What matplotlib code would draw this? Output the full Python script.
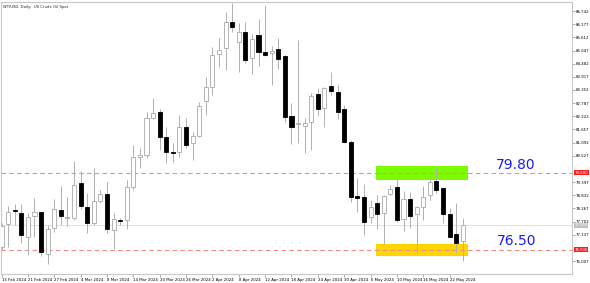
import matplotlib.pyplot as plt
import numpy as np

# daily candles, WTIUSD, from 15 Feb 2024 to 24 May 2024
opens = [76.61, 77.60, 78.19, 78.08, 77.05, 77.94, 78.11, 76.30, 77.41, 78.18,
         77.87, 77.84, 79.34, 78.34, 77.63, 78.58, 78.90, 77.35, 77.75, 77.77,
         79.18, 80.46, 80.56, 82.13, 82.42, 81.34, 80.70, 80.69, 81.76, 81.06,
         81.37, 82.89, 83.49, 84.88, 85.14, 86.29, 85.42, 85.85, 84.71, 85.71,
         84.97, 84.95, 85.12, 84.81, 82.25, 81.90, 81.80, 81.99, 83.17, 82.59,
         83.51, 83.28, 82.52, 81.13, 78.81, 78.77, 77.88, 78.51, 78.08, 78.88,
         79.17, 77.80, 78.67, 78.03, 78.34, 78.84, 79.46, 79.13, 78.03, 77.15,
         76.86]
highs = [77.64, 78.37, 78.45, 78.45, 78.07, 78.71, 78.13, 77.55, 78.68, 79.23,
         78.77, 80.30, 79.87, 78.93, 79.99, 79.06, 79.41, 78.06, 77.85, 79.49,
         81.01, 80.85, 82.42, 83.02, 82.53, 81.77, 81.06, 82.28, 82.13, 81.56,
         82.85, 83.92, 85.21, 85.57, 86.69, 87.07, 86.24, 86.28, 85.75, 86.40,
         87.00, 85.25, 85.57, 84.85, 82.78, 85.50, 82.13, 83.23, 83.42, 83.47,
         84.14, 83.56, 82.70, 81.20, 79.56, 79.31, 78.63, 78.84, 78.84, 79.27,
         79.52, 79.03, 78.98, 78.37, 79.23, 79.58, 80.03, 79.20, 78.27, 78.51,
         77.87]
lows = [76.48, 76.62, 77.55, 76.78, 76.26, 77.05, 76.22, 75.88, 77.27, 77.54,
        77.51, 77.77, 78.24, 77.22, 77.55, 78.50, 77.20, 76.51, 77.55, 77.37,
        79.06, 79.99, 80.42, 82.10, 80.77, 80.23, 80.27, 80.49, 80.85, 80.34,
        81.33, 82.28, 83.14, 84.35, 84.21, 85.85, 84.14, 84.50, 84.04, 84.38,
        84.81, 83.56, 84.24, 81.99, 81.03, 81.09, 80.63, 80.77, 82.23, 81.77,
        83.14, 82.09, 81.09, 78.55, 78.13, 77.12, 77.65, 77.37, 76.74, 78.84,
        77.70, 77.31, 77.41, 76.36, 77.77, 78.63, 78.94, 77.63, 77.02, 76.34,
        76.02]
closes = [77.51, 78.13, 78.14, 77.11, 77.88, 78.13, 76.41, 77.39, 78.23, 77.93,
          77.89, 79.27, 78.38, 77.63, 78.57, 78.87, 77.38, 77.80, 77.72, 79.17,
          80.46, 80.55, 82.13, 82.38, 81.32, 80.69, 80.65, 81.77, 80.99, 81.37,
          82.66, 83.47, 84.85, 85.07, 86.26, 86.07, 85.83, 84.64, 85.54, 84.97,
          84.85, 85.02, 84.67, 82.20, 81.75, 81.92, 81.92, 83.11, 82.53, 83.42,
          83.32, 82.39, 81.13, 78.74, 78.70, 77.67, 78.34, 78.03, 78.80, 79.09,
          77.77, 78.66, 77.94, 78.31, 78.74, 79.41, 79.06, 78.03, 77.05, 76.77,
          77.55]

date_labels = ["15 Feb 2024", "21 Feb 2024", "27 Feb 2024", "4 Mar 2024",
               "8 Mar 2024", "14 Mar 2024", "20 Mar 2024", "26 Mar 2024",
               "2 Apr 2024", "8 Apr 2024", "12 Apr 2024", "18 Apr 2024",
               "24 Apr 2024", "30 Apr 2024", "6 May 2024", "10 May 2024",
               "16 May 2024", "22 May 2024"]
label_step = 4

# right scale labels (the ones under the level boxes are not shown)
price_ticks = [86.742, 86.177, 85.612, 85.047, 84.482, 83.917, 83.352, 82.787,
               82.222, 81.657, 81.092, 80.527, 79.397, 78.832, 78.267,
               77.702, 77.137, 76.007]

level_high = 79.80
level_low = 76.50
last_price = 77.55
green_zone = (79.49, 80.09)
yellow_zone = (76.22, 76.74)
zone_bars = (56.8, 70.8)

fig = plt.figure(figsize=(5.9, 2.83), dpi=100)
ax = fig.add_axes([1 / 590, 1 - 274 / 283, 571 / 590, 272 / 283])

x = np.arange(len(opens))
o = np.array(opens)
c = np.array(closes)
up = c >= o

# zones
ax.fill_between(zone_bars, green_zone[0], green_zone[1], color="#7cfc00", lw=0, zorder=1)
ax.fill_between(zone_bars, yellow_zone[0], yellow_zone[1], color="#ffd500", lw=0, zorder=1)

# level lines
for lvl in (level_high, level_low):
    ax.axhline(lvl, color="#f48a8a", lw=0.8, ls=(0, (4, 3)), zorder=1.5)
ax.axhline(last_price, color="#dcdcdc", lw=0.6, zorder=1.2)

# candles
ax.vlines(x, lows, highs, color="#b0b0b0", lw=0.7, zorder=2)
bottoms = np.minimum(o, c)
heights = np.maximum(np.abs(c - o), 0.02)
ax.bar(x[up], heights[up], bottom=bottoms[up], width=0.62,
       color="white", edgecolor="#a8a8a8", lw=0.6, zorder=3)
ax.bar(x[~up], heights[~up], bottom=bottoms[~up], width=0.62,
       color="black", edgecolor="black", lw=0.6, zorder=3)

ax.set_xlim(-0.08, 86.57)
ax.set_ylim(75.45, 87.13)

ax.set_xticks(x[::label_step][:len(date_labels)])
ax.set_xticklabels(date_labels, ha="left", fontsize=2.8)
ax.tick_params(axis="x", length=2, width=0.5, color="#888888", pad=1)

ax.yaxis.tick_right()
ax.set_yticks(price_ticks)
ax.set_yticklabels([f"{p:.3f}" for p in price_ticks], fontsize=2.8)
ax.tick_params(axis="y", length=2, width=0.5, color="#888888", pad=1)

for s in ax.spines.values():
    s.set_color("#c8c8c8")
    s.set_linewidth(0.8)

ax.text(0.004, 0.988, "WTIUSD, Daily:  US Crude Oil Spot", transform=ax.transAxes,
        fontsize=2.7, va="top", ha="left", color="#222222")

ax.text(78.1, 80.15, "79.80", fontsize=10, color="#1a1aff", ha="center", va="center")
ax.text(78.1, 76.87, "76.50", fontsize=10, color="#1a1aff", ha="center", va="center")

# price labels on the right axis
for lvl, bg in ((level_high, "#ff1a1a"), (level_low, "#ff1a1a"), (last_price, "#c0c0c0")):
    ax.text(1.004, lvl, f"{lvl:.3f}", transform=ax.get_yaxis_transform(),
            fontsize=2.8, color="white", ha="left", va="center", clip_on=False,
            bbox=dict(boxstyle="square,pad=0.15", fc=bg, ec="none"), zorder=5)

fig.savefig("out.png", dpi=100)
